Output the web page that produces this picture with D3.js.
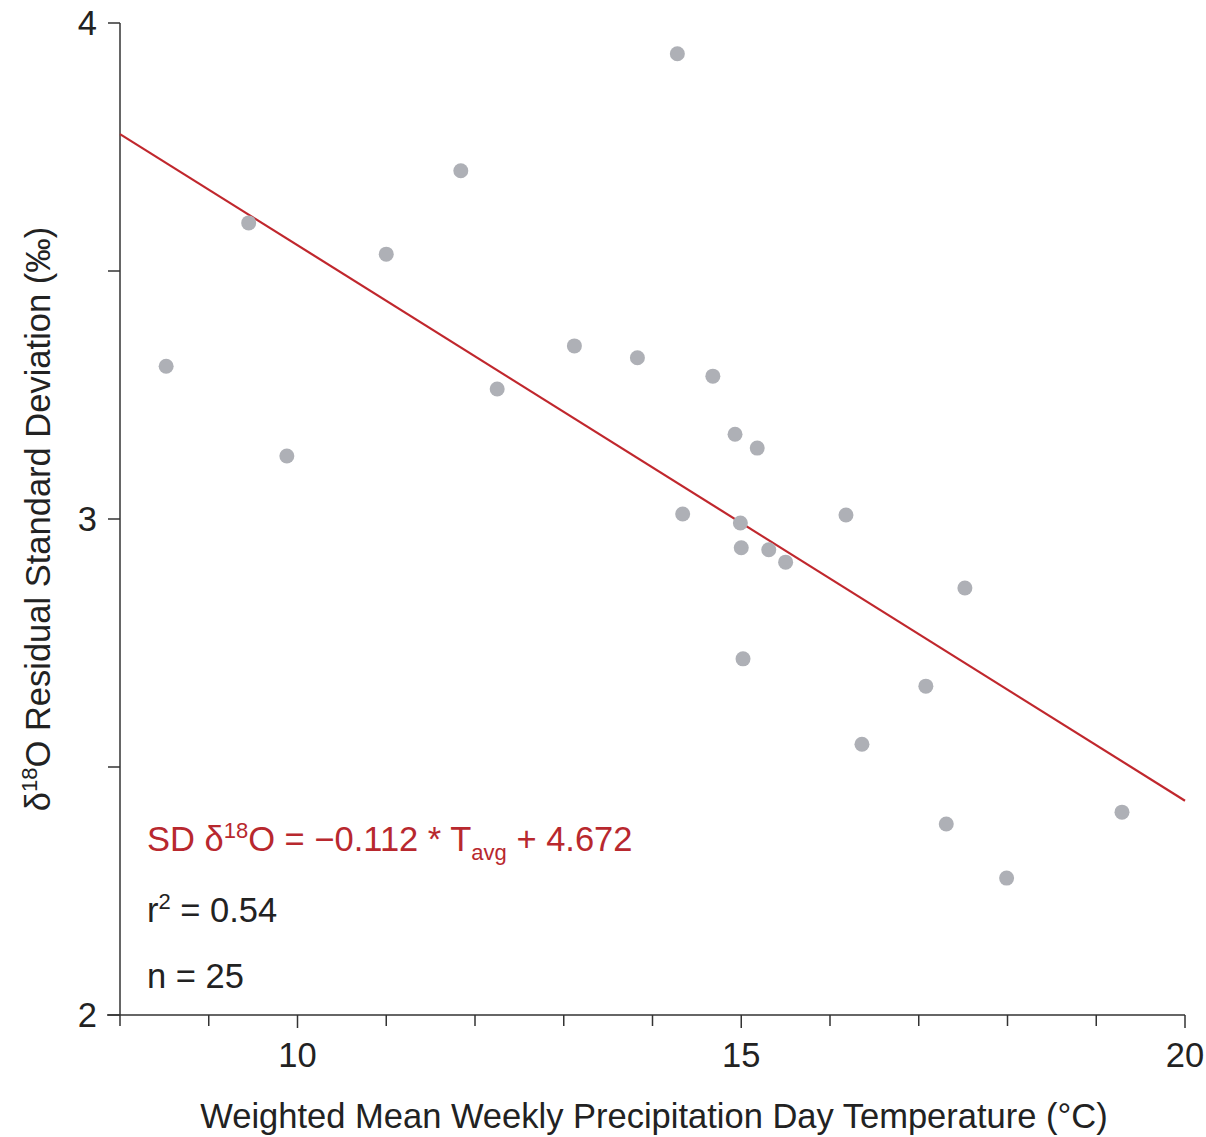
<!DOCTYPE html>
<html>
<head>
<meta charset="utf-8">
<script src="https://cdn.jsdelivr.net/npm/d3@7"></script>
<style>
  body { margin: 0; background: #fff; }
  text { font-family: "Liberation Sans", Arial, sans-serif; fill: #222; }
</style>
</head>
<body>
<div id="chart"></div>
<script>
// temperatures (°C) and residual SD (‰)
const tempValues = [8.52, 9.45, 9.88, 11.0, 11.84, 12.25, 13.12, 13.83, 14.28, 14.34,
  14.68, 14.93, 15.18, 14.99, 15.0, 15.31, 15.5, 15.02, 16.18, 16.36,
  17.52, 17.08, 17.31, 17.99, 19.29];
const sdValues = [3.308, 3.597, 3.127, 3.534, 3.702, 3.262, 3.349, 3.325, 3.938, 3.010,
  3.288, 3.171, 3.143, 2.992, 2.942, 2.938, 2.913, 2.718, 3.008, 2.546,
  2.861, 2.663, 2.385, 2.276, 2.409];
const fitSlope = -0.112;
const fitIntercept = 4.672;
const xTicks = [8, 9, 10, 11, 12, 13, 14, 15, 16, 17, 18, 19, 20];
const xTickLabels = [10, 15, 20];
const yTicks = [2, 2.5, 3, 3.5, 4];
const yTickLabels = [2, 3, 4];

const width = 1206, height = 1137;
const margin = {top: 23, right: 21, bottom: 122, left: 120};
const innerW = width - margin.left - margin.right;
const innerH = height - margin.top - margin.bottom;
const fontSize = '34.5px';
const supSize = '22px';

const svg = d3.select('#chart').append('svg')
  .attr('width', width)
  .attr('height', height);

const g = svg.append('g')
  .attr('transform', `translate(${margin.left},${margin.top})`);

const x = d3.scaleLinear().domain([8, 20]).range([0, innerW]);
const y = d3.scaleLinear().domain([2, 4]).range([innerH, 0]);

// axes
const axisColor = '#333';
g.append('line')
  .attr('x1', -13).attr('x2', innerW)
  .attr('y1', innerH).attr('y2', innerH)
  .attr('stroke', axisColor).attr('stroke-width', 1.5);
g.append('line')
  .attr('x1', 0).attr('x2', 0)
  .attr('y1', 0).attr('y2', innerH)
  .attr('stroke', axisColor).attr('stroke-width', 1.5);

g.selectAll('.x-tick')
  .data(xTicks)
  .enter().append('line')
  .attr('class', 'x-tick')
  .attr('x1', d => x(d)).attr('x2', d => x(d))
  .attr('y1', innerH).attr('y2', d => innerH + (xTickLabels.includes(d) ? 13 : 11))
  .attr('stroke', axisColor).attr('stroke-width', 1.5);

g.selectAll('.x-label')
  .data(xTickLabels)
  .enter().append('text')
  .attr('class', 'x-label')
  .attr('x', d => x(d))
  .attr('y', innerH + 52)
  .attr('text-anchor', 'middle')
  .style('font-size', fontSize)
  .text(d => d);

g.selectAll('.y-tick')
  .data(yTicks)
  .enter().append('line')
  .attr('class', 'y-tick')
  .attr('x1', -12).attr('x2', 0)
  .attr('y1', d => y(d)).attr('y2', d => y(d))
  .attr('stroke', axisColor).attr('stroke-width', 1.5);

g.selectAll('.y-label')
  .data(yTickLabels)
  .enter().append('text')
  .attr('class', 'y-label')
  .attr('x', -23)
  .attr('y', d => y(d) + 12)
  .attr('text-anchor', 'end')
  .style('font-size', fontSize)
  .text(d => d);

// axis titles
svg.append('text')
  .attr('x', 654)
  .attr('y', 1128)
  .attr('text-anchor', 'middle')
  .style('font-size', fontSize)
  .text('Weighted Mean Weekly Precipitation Day Temperature (°C)');

const yTitle = svg.append('text')
  .attr('transform', 'translate(50,519) rotate(-90)')
  .attr('text-anchor', 'middle')
  .style('font-size', fontSize);
yTitle.append('tspan').text('δ');
yTitle.append('tspan').attr('dy', -13).style('font-size', supSize).text('18');
yTitle.append('tspan').attr('dy', 13).text('O Residual Standard Deviation (‰)');

// regression line
g.append('line')
  .attr('x1', x(8)).attr('y1', y(fitSlope * 8 + fitIntercept))
  .attr('x2', x(20)).attr('y2', y(fitSlope * 20 + fitIntercept))
  .attr('stroke', '#c0272d')
  .attr('stroke-width', 2.2);

// points
const points = tempValues.map((t, i) => ({t: t, sd: sdValues[i]}));
g.selectAll('.dot')
  .data(points)
  .enter().append('circle')
  .attr('class', 'dot')
  .attr('cx', d => x(d.t))
  .attr('cy', d => y(d.sd))
  .attr('r', 7.5)
  .attr('fill', '#aeb0b6');

// annotations
const eq = svg.append('text')
  .attr('x', 147).attr('y', 851)
  .style('font-size', fontSize)
  .style('fill', '#b8282e');
eq.append('tspan').text('SD δ');
eq.append('tspan').attr('dy', -13).style('font-size', supSize).text('18');
eq.append('tspan').attr('dy', 13).text('O = −0.112 * T');
eq.append('tspan').attr('dy', 9).style('font-size', supSize).text('avg');
eq.append('tspan').attr('dy', -9).text(' + 4.672');

const r2 = svg.append('text')
  .attr('x', 147).attr('y', 922)
  .style('font-size', fontSize);
r2.append('tspan').text('r');
r2.append('tspan').attr('dy', -13).style('font-size', supSize).text('2');
r2.append('tspan').attr('dy', 13).text(' = 0.54');

svg.append('text')
  .attr('x', 147).attr('y', 988)
  .style('font-size', fontSize)
  .text('n = 25');
</script>
</body>
</html>
